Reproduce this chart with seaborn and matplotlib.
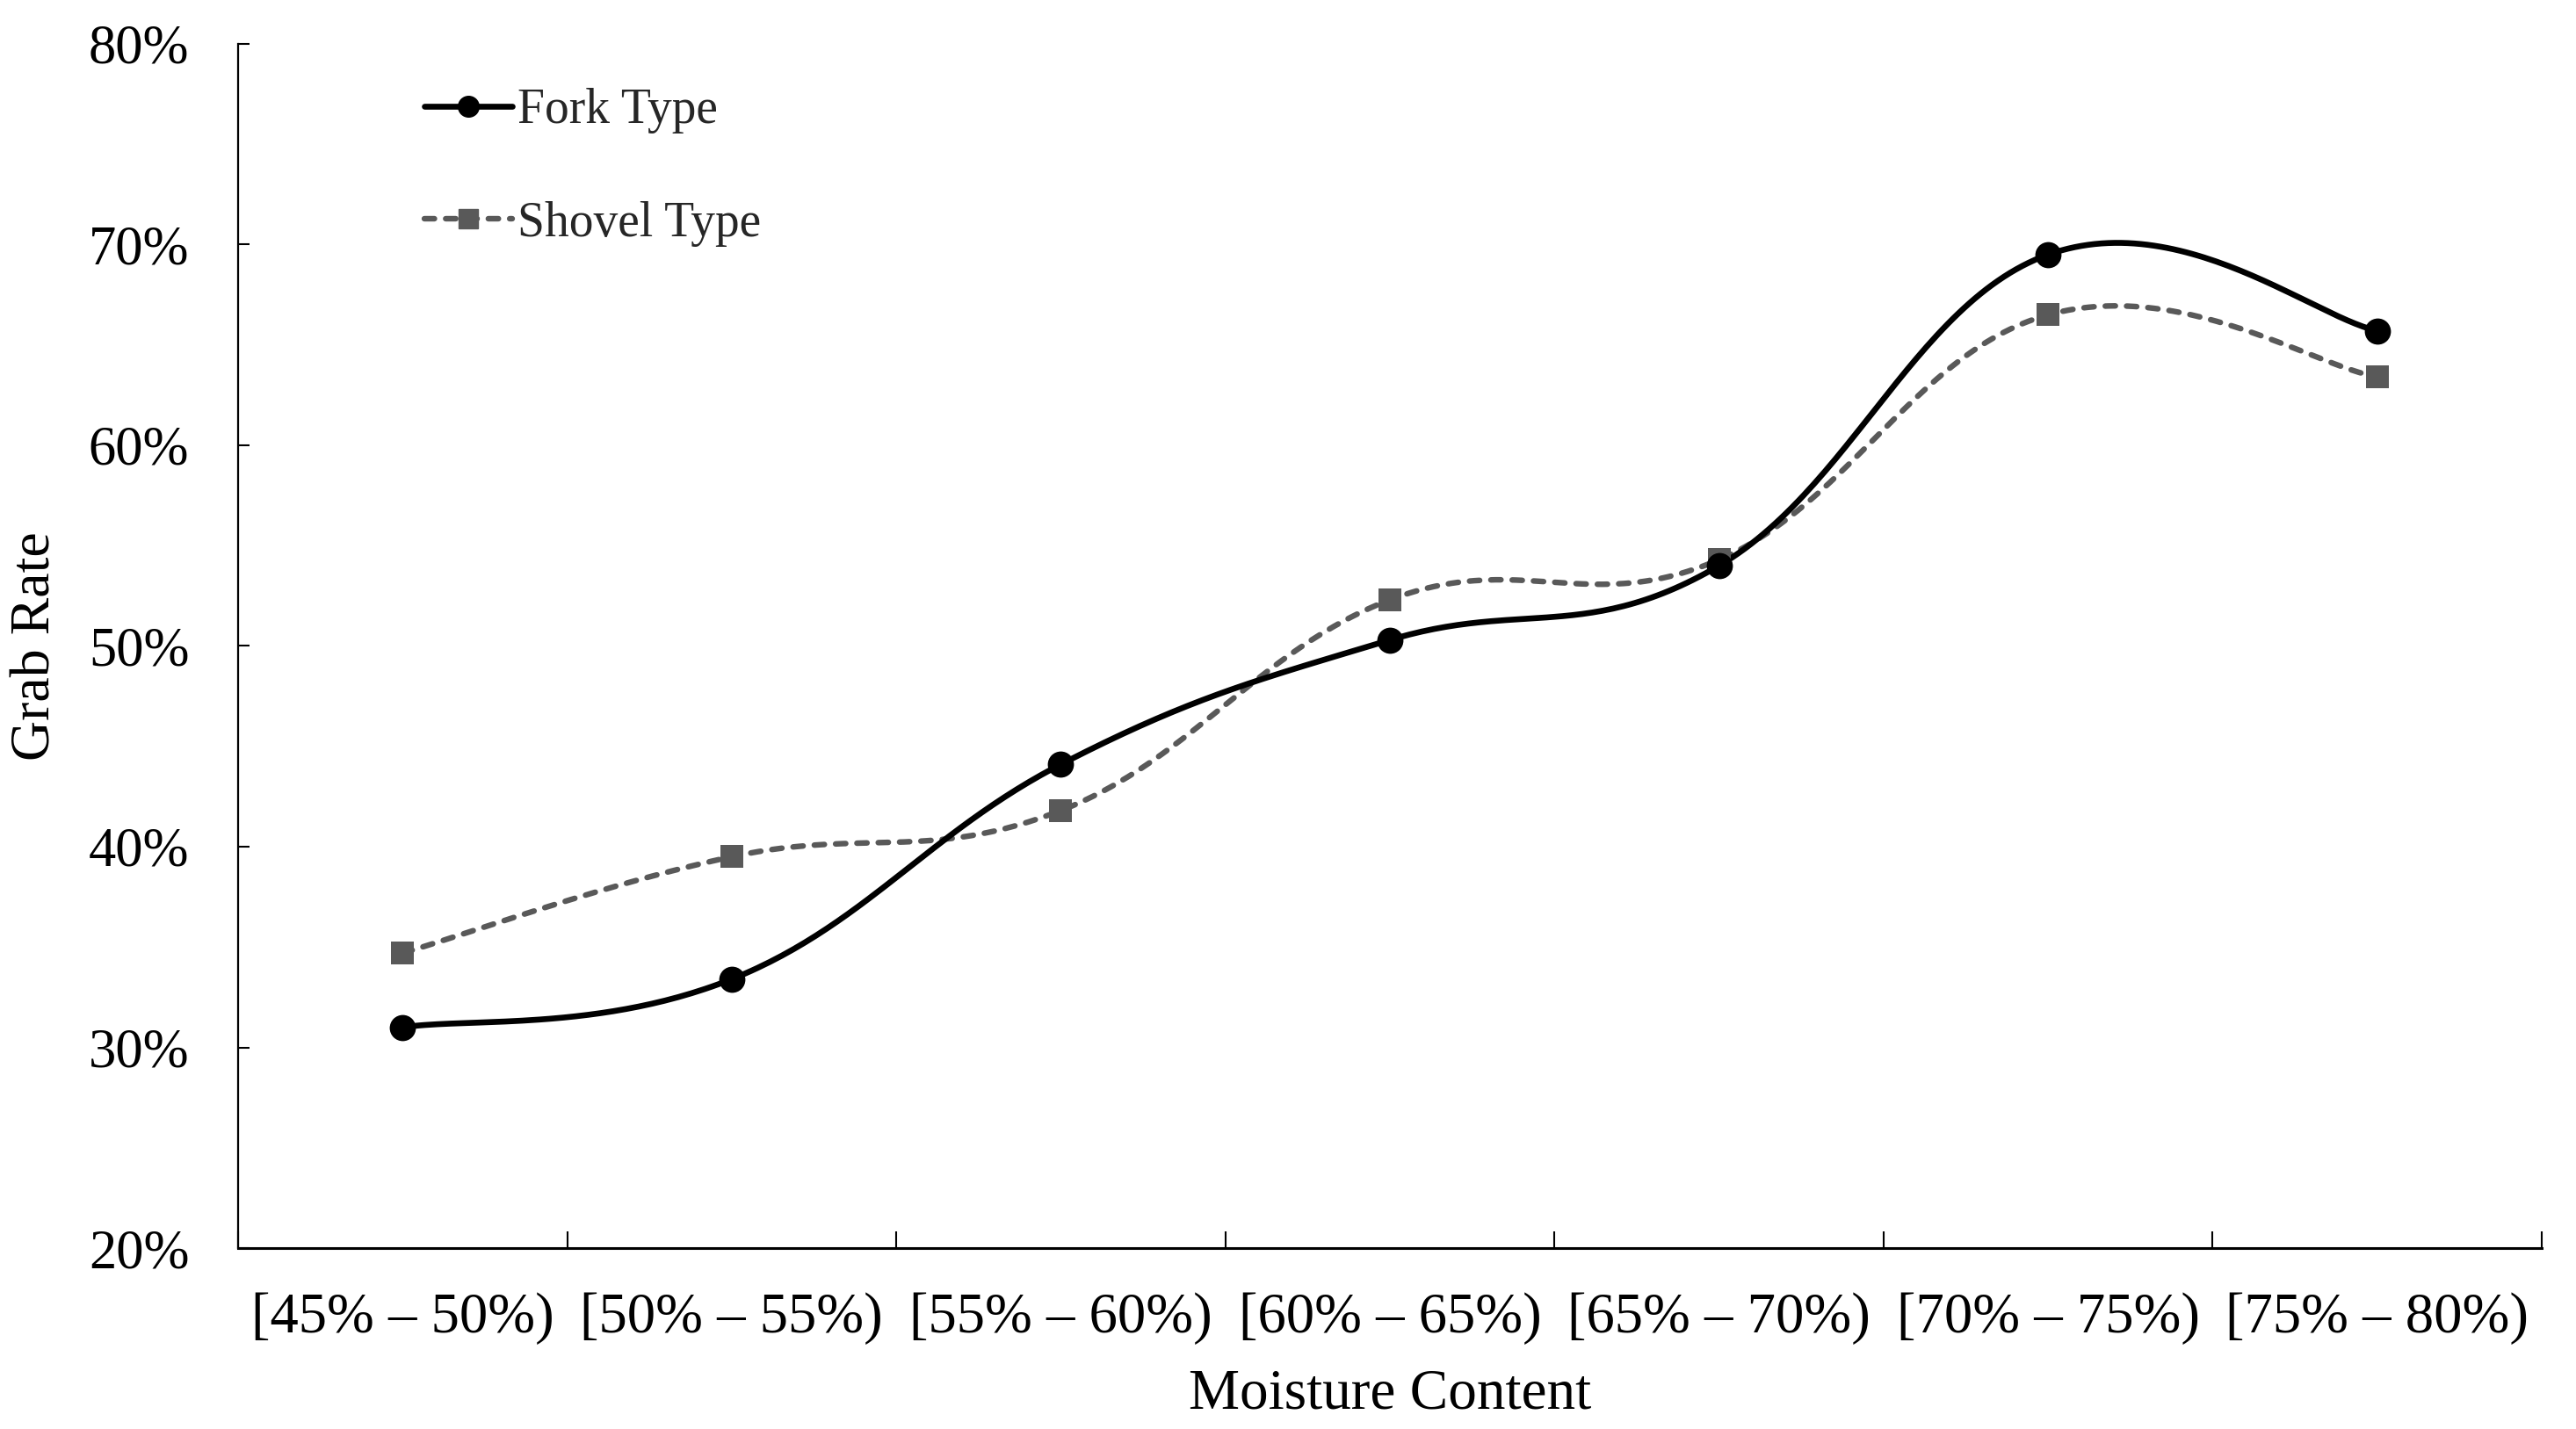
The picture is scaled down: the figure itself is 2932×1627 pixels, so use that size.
import numpy as np
import pandas as pd
import seaborn as sns
import matplotlib
matplotlib.use("Agg")
import matplotlib.pyplot as plt
from matplotlib.lines import Line2D
from matplotlib.ticker import FuncFormatter, FixedLocator

categories = ["[45% – 50%)", "[50% – 55%)", "[55% – 60%)", "[60% – 65%)",
              "[65% – 70%)", "[70% – 75%)", "[75% – 80%)"]
fork_values = [31.0, 33.4, 44.1, 50.3, 54.0, 69.5, 65.7]
shovel_values = [34.7, 39.5, 41.8, 52.3, 54.3, 66.5, 63.4]
y_ticks = [20, 30, 40, 50, 60, 70, 80]

sns.set_theme(style="white")
plt.rcParams["font.family"] = ["Liberation Serif", "DejaVu Serif"]


def smooth(xs, ys, k=0.2, n=60):
    xs = np.asarray(xs, float)
    ys = np.asarray(ys, float)
    P = np.column_stack([xs, ys])
    m = len(P)
    out = []
    for i in range(m - 1):
        p0 = P[i - 1] if i > 0 else P[i]
        p1 = P[i]
        p2 = P[i + 1]
        p3 = P[i + 2] if i + 2 < m else P[i + 1]
        c1 = p1 + (p2 - p0) * k
        c2 = p2 - (p3 - p1) * k
        t = np.linspace(0, 1, n)[:, None]
        seg = ((1 - t) ** 3) * p1 + 3 * ((1 - t) ** 2) * t * c1 + 3 * (1 - t) * t ** 2 * c2 + t ** 3 * p2
        if i > 0:
            seg = seg[1:]
        out.append(seg)
    out = np.vstack(out)
    return out[:, 0], out[:, 1]


x_pos = np.arange(len(categories))
df = pd.DataFrame({"x": x_pos, "fork": fork_values, "shovel": shovel_values})

fig, ax = plt.subplots(figsize=(29.32, 16.27), dpi=100)
fig.subplots_adjust(left=0.0924, right=0.9867, top=0.9693, bottom=0.1266)

gray = "#595959"
dash = (0, (1.8, 2.0))

fx, fy = smooth(df["x"], df["fork"])
sx, sy = smooth(df["x"], df["shovel"])

sns.lineplot(x=sx, y=sy, ax=ax, color=gray, linewidth=4.6, linestyle=dash,
             sort=False, legend=False, dash_capstyle="round")
sns.lineplot(x=fx, y=fy, ax=ax, color="black", linewidth=4.8, sort=False, legend=False)

sns.scatterplot(data=df, x="x", y="shovel", ax=ax, marker="s", s=330, color=gray,
                edgecolor=gray, linewidth=0, zorder=5, legend=False)
sns.scatterplot(data=df, x="x", y="fork", ax=ax, marker="o", s=460, color="black",
                edgecolor="black", linewidth=0, zorder=6, legend=False)

ax.set_xlim(-0.5, len(categories) - 0.5)
ax.set_ylim(20, 80)

# x ticks: boundaries (inward marks), labels centered on categories
bounds = np.arange(-0.5, len(categories), 1.0)
ax.xaxis.set_major_locator(FixedLocator(bounds))
ax.set_xticklabels([""] * len(bounds))
ax.set_xticks(x_pos, minor=True)
ax.set_xticklabels(categories, minor=True)
ax.tick_params(axis="x", which="major", direction="in", length=14, width=1.5,
               color="black", bottom=True)
ax.tick_params(axis="x", which="minor", length=0, pad=36, labelsize=46.5, labelcolor="black")

ax.set_yticks(y_ticks)
ax.yaxis.set_major_formatter(FuncFormatter(lambda v, p: f"{v:.0f}%"))
ax.tick_params(axis="y", direction="in", length=9, width=1.5, color="black",
               left=True, pad=40, labelsize=45, labelcolor="black")

for side in ["top", "right"]:
    ax.spines[side].set_visible(False)
ax.spines["left"].set_linewidth(1.6)
ax.spines["bottom"].set_linewidth(2.2)
ax.spines["left"].set_color("black")
ax.spines["bottom"].set_color("black")

ax.set_xlabel("Moisture Content", fontsize=47, color="black", labelpad=20)
ax.set_ylabel("Grab Rate", fontsize=46, color="black", labelpad=22)

handles = [
    Line2D([0], [0], color="black", linewidth=4.8, marker="o", markersize=17),
    Line2D([0], [0], color=gray, linewidth=4.6, linestyle=dash, marker="s",
           markersize=15.5, dash_capstyle="round"),
]
leg = ax.legend(handles, ["Fork Type", "Shovel Type"], loc="upper left",
                bbox_to_anchor=(0.062, 1.0), frameon=False, fontsize=40,
                handlelength=1.8, handletextpad=0.1, labelspacing=1.38)

fig.savefig("out.png", dpi=100, facecolor="white")
